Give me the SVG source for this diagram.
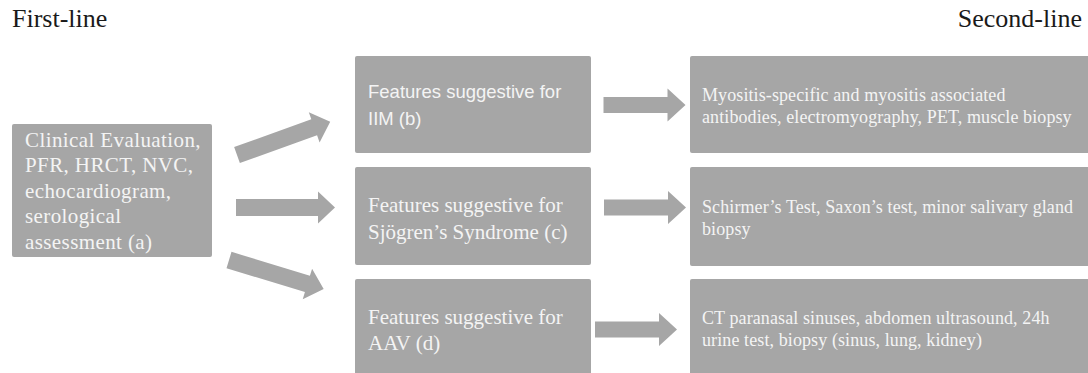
<svg xmlns="http://www.w3.org/2000/svg" width="1088" height="373" viewBox="0 0 1088 373">
<style>
.box{fill:#a6a6a6;}
.arrow{fill:#a6a6a6;}
.title{font-family:"Liberation Serif",serif;font-size:26px;fill:#1a1a1a;}
.serif{font-family:"Liberation Serif",serif;font-size:21px;fill:#f4f4f4;}
.wide{letter-spacing:0.4px;}
.sans{font-family:"Liberation Sans",Arial,sans-serif;font-size:18.5px;fill:#f4f4f4;}
.small{font-family:"Liberation Serif",serif;font-size:18px;fill:#f4f4f4;letter-spacing:0.1px;}
</style>
<defs>
<path id="bigArrow" d="M0,-8.5 H82 V-16 L99,0 L82,16 V8.5 H0 Z"/>
<path id="smallArrow" d="M0,-8 H64 V-16.5 L82,0 L64,16.5 V8 H0 Z"/>
</defs>
<rect width="1088" height="373" fill="#ffffff"/>
<text class="title" x="12" y="27">First-line</text>
<text class="title" x="1082" y="27" text-anchor="end">Second-line</text>

<g id="connectors">
<use href="#bigArrow" class="arrow" transform="translate(237,155) rotate(-19.7)"/>
<use href="#bigArrow" class="arrow" transform="translate(236,207.5)"/>
<use href="#bigArrow" class="arrow" transform="translate(229,260) rotate(17)"/>
<use href="#smallArrow" class="arrow" transform="translate(603.5,105)"/>
<use href="#smallArrow" class="arrow" transform="translate(604,207.5)"/>
<use href="#smallArrow" class="arrow" transform="translate(595,329.5)"/>
</g>

<g id="node-first-line">
<rect class="box" x="12" y="124" width="200" height="133" rx="2"/>
<text class="serif wide" x="25" y="146.5">Clinical Evaluation,</text>
<text class="serif wide" x="25" y="172">PFR, HRCT, NVC,</text>
<text class="serif wide" x="25" y="197.5">echocardiogram,</text>
<text class="serif wide" x="25" y="223">serological</text>
<text class="serif wide" x="25" y="248.5">assessment (a)</text>
</g>

<g id="node-iim">
<rect class="box" x="355" y="56" width="236" height="97" rx="2"/>
<text class="sans" x="368" y="98">Features suggestive for</text>
<text class="sans" x="368" y="125">IIM (b)</text>
</g>

<g id="node-sjogren">
<rect class="box" x="355" y="167" width="236" height="98" rx="2"/>
<text class="serif" x="368" y="211.5">Features suggestive for</text>
<text class="serif" x="368" y="238.5">Sjögren’s Syndrome (c)</text>
</g>

<g id="node-aav">
<rect class="box" x="355" y="279" width="236" height="100" rx="2"/>
<text class="serif" x="368" y="323.5">Features suggestive for</text>
<text class="serif" x="368" y="350">AAV (d)</text>
</g>

<g id="node-iim-tests">
<rect class="box" x="690" y="56" width="400" height="97" rx="2"/>
<text class="small" x="702" y="101">Myositis-specific and myositis associated</text>
<text class="small" x="702" y="123">antibodies, electromyography, PET, muscle biopsy</text>
</g>

<g id="node-sjogren-tests">
<rect class="box" x="690" y="167" width="400" height="99" rx="2"/>
<text class="small" x="702" y="213">Schirmer’s Test, Saxon’s test, minor salivary gland</text>
<text class="small" x="702" y="235">biopsy</text>
</g>

<g id="node-aav-tests">
<rect class="box" x="690" y="279" width="400" height="100" rx="2"/>
<text class="small" x="702" y="323.5">CT paranasal sinuses, abdomen ultrasound, 24h</text>
<text class="small" x="702" y="345.5">urine test, biopsy (sinus, lung, kidney)</text>
</g>
</svg>
